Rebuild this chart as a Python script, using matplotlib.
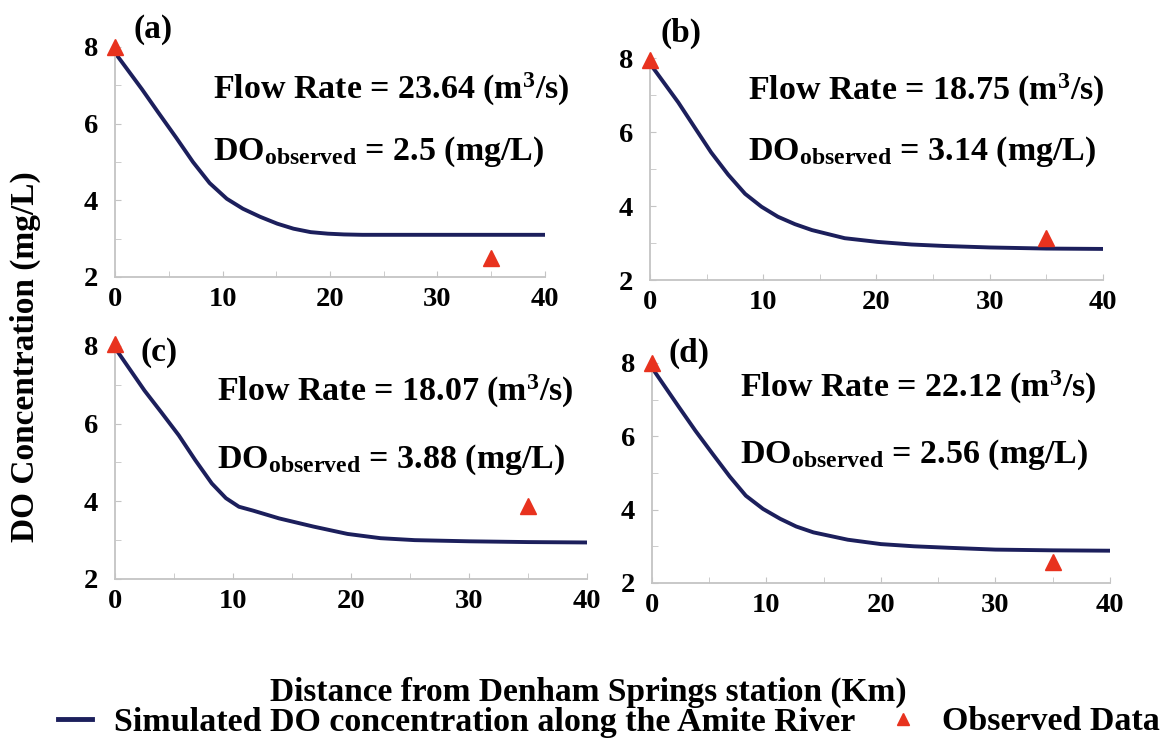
import numpy as np
import matplotlib.pyplot as plt
from matplotlib.lines import Line2D
from matplotlib.ticker import MultipleLocator

plt.rcParams["font.family"] = ["Liberation Serif", "DejaVu Serif"]
plt.rcParams["font.weight"] = "bold"
plt.rcParams["mathtext.fontset"] = "custom"
plt.rcParams["mathtext.rm"] = "Liberation Serif:bold"
plt.rcParams["mathtext.it"] = "Liberation Serif:bold"
plt.rcParams["mathtext.bf"] = "Liberation Serif:bold"

# simulated DO (mg/L) vs distance (km)
x_a = [0, 2.5, 4, 5.7, 7.25, 8.8, 10.4, 11.9, 13.5, 15.1, 16.6, 18.2, 19.8, 21.3, 23, 26, 30, 35, 40]
sim_a = [7.85, 6.9, 6.3, 5.63, 5.0, 4.45, 4.04, 3.78, 3.57, 3.39, 3.26, 3.17, 3.13, 3.11, 3.1, 3.1, 3.1, 3.1, 3.1]

x_b = [0, 2.5, 4, 5.4, 6.9, 8.4, 9.85, 11.3, 12.8, 14.3, 17.2, 20.1, 23.1, 26, 30, 35, 40]
sim_b = [7.85, 6.8, 6.1, 5.45, 4.85, 4.33, 3.98, 3.71, 3.51, 3.35, 3.13, 3.03, 2.96, 2.92, 2.88, 2.85, 2.84]

x_c = [0, 2.5, 3.9, 5.4, 6.8, 8.2, 9.4, 10.5, 11.7, 13.9, 16.8, 19.7, 22.5, 25.4, 30, 35, 40]
sim_c = [7.95, 6.85, 6.3, 5.7, 5.06, 4.46, 4.08, 3.86, 3.76, 3.56, 3.35, 3.16, 3.05, 3.0, 2.97, 2.95, 2.94]

x_d = [0, 2.35, 3.8, 5.3, 6.8, 8.2, 9.7, 11.2, 12.6, 14.1, 17.1, 20, 22.9, 25.9, 30, 35, 40]
sim_d = [7.87, 6.8, 6.15, 5.52, 4.9, 4.38, 4.02, 3.75, 3.54, 3.38, 3.18, 3.06, 3.0, 2.96, 2.91, 2.89, 2.88]

# observed points
obs_x = [0, 35]
obs_a = [8.0, 2.5]
obs_b = [7.95, 3.14]
obs_c = [8.05, 3.88]
obs_d = [8.0, 2.56]

flows = ["23.64", "18.75", "18.07", "22.12"]
do_obs = ["2.5", "3.14", "3.88", "2.56"]
tags = ["(a)", "(b)", "(c)", "(d)"]

xs = [x_a, x_b, x_c, x_d]
sims = [sim_a, sim_b, sim_c, sim_d]
obss = [obs_a, obs_b, obs_c, obs_d]

# axes boxes [left, bottom, width, height]
boxes = [
    [0.0984, 0.6257, 0.3678, 0.3108],
    [0.556, 0.6216, 0.3875, 0.300],
    [0.0984, 0.2176, 0.4038, 0.3149],
    [0.5577, 0.2122, 0.3918, 0.2973],
]
# (x, flow baseline, DO baseline) in axes fraction
text_pos = [
    (0.228, 0.774, 0.509),
    (0.216, 0.811, 0.541),
    (0.216, 0.765, 0.479),
    (0.192, 0.845, 0.545),
]
tag_pos = [(0.088, 1.074), (0.068, 1.113), (0.093, 0.97), (0.081, 1.045)]

line_color = "#1c1f5c"
red = "#e8321e"
grey = "#c4c4c4"

fig = plt.figure(figsize=(11.69, 7.40), dpi=100)

for i in range(4):
    ax = fig.add_axes(boxes[i])
    ax.plot(xs[i], sims[i], color=line_color, lw=2.8, solid_joinstyle="round")
    ax.plot(obs_x, obss[i], linestyle="none", marker="^", color=red,
            markersize=11, clip_on=False, zorder=5)
    ax.set_xlim(0, 40)
    ax.set_ylim(2, 8)
    ax.xaxis.set_major_locator(MultipleLocator(10))
    ax.xaxis.set_minor_locator(MultipleLocator(5))
    ax.yaxis.set_major_locator(MultipleLocator(2))
    ax.yaxis.set_minor_locator(MultipleLocator(1))
    for s in ["top", "right"]:
        ax.spines[s].set_visible(False)
    for s in ["left", "bottom"]:
        ax.spines[s].set_color(grey)
        ax.spines[s].set_linewidth(1.3)
    ax.tick_params(which="both", direction="in", color=grey, length=4,
                   labelsize=20.5)
    ax.tick_params(axis="x", pad=7)
    ax.tick_params(axis="y", pad=12)
    for lab in ax.get_xticklabels() + ax.get_yticklabels():
        lab.set_fontweight("bold")

    tx, fy, dy = text_pos[i]
    ax.text(tx, fy, "Flow Rate = " + flows[i] + " (m$^{3}$/s)",
            transform=ax.transAxes, fontsize=24.5, fontweight="bold",
            va="baseline", ha="left")
    ax.text(tx, dy, "DO$_{\\mathrm{observed}}$ = " + do_obs[i] + " (mg/L)",
            transform=ax.transAxes, fontsize=24.5, fontweight="bold",
            va="baseline", ha="left")
    ax.text(tag_pos[i][0], tag_pos[i][1], tags[i], transform=ax.transAxes,
            fontsize=24, fontweight="bold", ha="center", va="center")

fig.text(25 / 1169, 1 - 357 / 740, "DO Concentration (mg/L)", rotation=90,
         fontsize=24, fontweight="bold", ha="center", va="center")
fig.text(588 / 1169, 1 - 692 / 740, "Distance from Denham Springs station (Km)",
         fontsize=24, fontweight="bold", ha="center", va="center")

handles = [
    Line2D([], [], color=line_color, lw=3.5),
    Line2D([], [], linestyle="none", marker="^", color=red, markersize=9),
]
fig.legend(handles,
           ["Simulated DO concentration along the Amite River", "Observed Data"],
           loc="center left", bbox_to_anchor=(58 / 1169, 1 - 722 / 740),
           ncol=2, frameon=False, borderpad=0, borderaxespad=0,
           prop={"size": 24.5, "weight": "bold"}, handlelength=1.0,
           handletextpad=0.65, columnspacing=0.9)

fig.savefig("out.png", dpi=100)
